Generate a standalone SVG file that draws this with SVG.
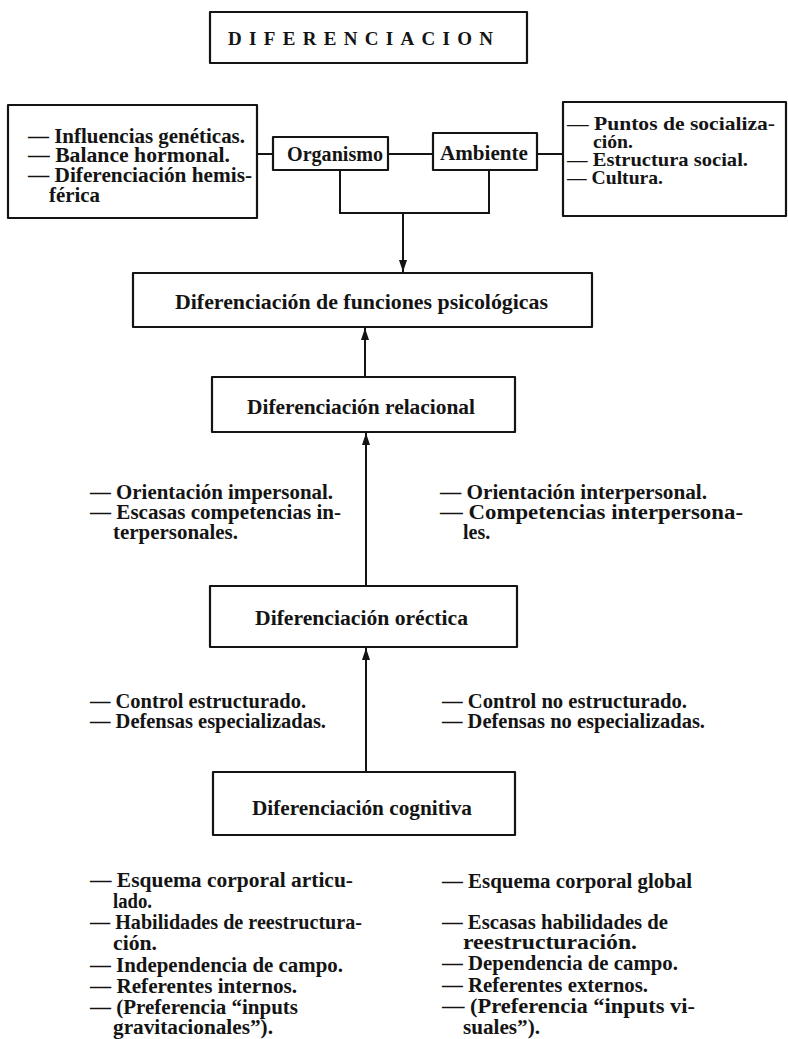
<svg xmlns="http://www.w3.org/2000/svg" width="788" height="1039" viewBox="0 0 788 1039">
  <style>
    .box { fill: none; stroke: #141414; stroke-width: 2.2; stroke-linejoin: round; }
    .wire { fill: none; stroke: #141414; stroke-width: 2; }
    .t { font-family: "Liberation Serif", "Times New Roman", serif; font-weight: bold; font-size: 20px; fill: #141414; }
    .s { font-size: 19px; }
    .title { font-family: "Liberation Serif", "Times New Roman", serif; font-weight: bold; font-size: 19px; fill: #141414; }
  </style>
  <defs>
    <marker id="tip" markerUnits="userSpaceOnUse" markerWidth="12" markerHeight="8" refX="12" refY="4" orient="auto" viewBox="0 0 12 8">
      <path d="M0,0 L12,4 L0,8 Z" fill="#141414"/>
    </marker>
  </defs>
  <rect width="788" height="1039" fill="#ffffff"/>

  <!-- connectors -->
  <g id="connectors">
    <line class="wire" x1="257" y1="154" x2="273" y2="154"/>
    <line class="wire" x1="388" y1="154" x2="433" y2="154"/>
    <line class="wire" x1="537" y1="154" x2="563" y2="154"/>
    <path class="wire" d="M340,170 V213 H489 V170"/>
    <line class="wire" x1="403" y1="214" x2="403" y2="272" marker-end="url(#tip)"/>
    <line class="wire" x1="365" y1="377" x2="365" y2="328" marker-end="url(#tip)"/>
    <line class="wire" x1="366" y1="586" x2="366" y2="433" marker-end="url(#tip)"/>
    <line class="wire" x1="366" y1="772" x2="366" y2="648" marker-end="url(#tip)"/>
  </g>

  <!-- title -->
  <g id="title">
    <rect class="box" x="210" y="12" width="317" height="51"/>
    <text class="title" x="228" y="45" textLength="265" lengthAdjust="spacing">DIFERENCIACION</text>
  </g>

  <!-- biological factors -->
  <g id="factores-biologicos">
    <rect class="box" x="8" y="105" width="249" height="113"/>
    <text class="t" x="28" y="143" textLength="217" lengthAdjust="spacingAndGlyphs">— Influencias genéticas.</text>
    <text class="t" x="28" y="162" textLength="202" lengthAdjust="spacingAndGlyphs">— Balance hormonal.</text>
    <text class="t" x="28" y="182" textLength="224" lengthAdjust="spacingAndGlyphs">— Diferenciación hemis-</text>
    <text class="t" x="49" y="202" textLength="51" lengthAdjust="spacingAndGlyphs">férica</text>
  </g>

  <g id="organismo">
    <rect class="box" x="273" y="137" width="115" height="33"/>
    <text class="t" x="287" y="161" textLength="96" lengthAdjust="spacingAndGlyphs">Organismo</text>
  </g>

  <g id="ambiente">
    <rect class="box" x="433" y="133" width="104" height="37"/>
    <text class="t" x="440" y="160" textLength="88" lengthAdjust="spacingAndGlyphs">Ambiente</text>
  </g>

  <!-- social factors -->
  <g id="factores-sociales">
    <rect class="box" x="563" y="102" width="223" height="114"/>
    <text class="t s" x="567" y="130" textLength="208" lengthAdjust="spacingAndGlyphs">— Puntos de socializa-</text>
    <text class="t s" x="593" y="148" textLength="40" lengthAdjust="spacingAndGlyphs">ción.</text>
    <text class="t s" x="567" y="166" textLength="181" lengthAdjust="spacingAndGlyphs">— Estructura social.</text>
    <text class="t s" x="567" y="184" textLength="96" lengthAdjust="spacingAndGlyphs">— Cultura.</text>
  </g>

  <g id="funciones">
    <rect class="box" x="133" y="273" width="459" height="54"/>
    <text class="t" x="175" y="309" textLength="373" lengthAdjust="spacingAndGlyphs">Diferenciación de funciones psicológicas</text>
  </g>

  <g id="relacional">
    <rect class="box" x="212" y="377" width="303" height="55"/>
    <text class="t" x="247" y="414" textLength="228" lengthAdjust="spacingAndGlyphs">Diferenciación relacional</text>
  </g>

  <g id="relacional-notas">
    <text class="t" x="90" y="499" textLength="243" lengthAdjust="spacingAndGlyphs">— Orientación impersonal.</text>
    <text class="t" x="90" y="519" textLength="251" lengthAdjust="spacingAndGlyphs">— Escasas competencias in-</text>
    <text class="t" x="113" y="539" textLength="125" lengthAdjust="spacingAndGlyphs">terpersonales.</text>
    <text class="t" x="440" y="499" textLength="267" lengthAdjust="spacingAndGlyphs">— Orientación interpersonal.</text>
    <text class="t" x="440" y="519" textLength="303" lengthAdjust="spacingAndGlyphs">— Competencias interpersona-</text>
    <text class="t" x="463" y="539">les.</text>
  </g>

  <g id="orectica">
    <rect class="box" x="210" y="586" width="307" height="61"/>
    <text class="t" x="255" y="625" textLength="213" lengthAdjust="spacingAndGlyphs">Diferenciación oréctica</text>
  </g>

  <g id="orectica-notas">
    <text class="t" x="90" y="708" textLength="216" lengthAdjust="spacingAndGlyphs">— Control estructurado.</text>
    <text class="t" x="90" y="728" textLength="236" lengthAdjust="spacingAndGlyphs">— Defensas especializadas.</text>
    <text class="t" x="442" y="708" textLength="245" lengthAdjust="spacingAndGlyphs">— Control no estructurado.</text>
    <text class="t" x="442" y="728" textLength="263" lengthAdjust="spacingAndGlyphs">— Defensas no especializadas.</text>
  </g>

  <g id="cognitiva">
    <rect class="box" x="213" y="772" width="302" height="63"/>
    <text class="t" x="252" y="815" textLength="220" lengthAdjust="spacingAndGlyphs">Diferenciación cognitiva</text>
  </g>

  <g id="cognitiva-notas">
    <text class="t" x="90" y="887" textLength="263" lengthAdjust="spacingAndGlyphs">— Esquema corporal articu-</text>
    <text class="t" x="113" y="908" textLength="39" lengthAdjust="spacingAndGlyphs">lado.</text>
    <text class="t" x="90" y="929" textLength="272" lengthAdjust="spacingAndGlyphs">— Habilidades de reestructura-</text>
    <text class="t" x="113" y="950" textLength="44" lengthAdjust="spacingAndGlyphs">ción.</text>
    <text class="t" x="90" y="972" textLength="253" lengthAdjust="spacingAndGlyphs">— Independencia de campo.</text>
    <text class="t" x="90" y="993" textLength="207" lengthAdjust="spacingAndGlyphs">— Referentes internos.</text>
    <text class="t" x="90" y="1014" textLength="208" lengthAdjust="spacingAndGlyphs">— (Preferencia “inputs</text>
    <text class="t" x="113" y="1034" textLength="160" lengthAdjust="spacingAndGlyphs">gravitacionales”).</text>

    <text class="t" x="442" y="888" textLength="250" lengthAdjust="spacingAndGlyphs">— Esquema corporal global</text>
    <text class="t" x="442" y="929" textLength="226" lengthAdjust="spacingAndGlyphs">— Escasas habilidades de</text>
    <text class="t" x="463" y="949" textLength="174" lengthAdjust="spacingAndGlyphs">reestructuración.</text>
    <text class="t" x="442" y="970" textLength="236" lengthAdjust="spacingAndGlyphs">— Dependencia de campo.</text>
    <text class="t" x="442" y="992" textLength="206" lengthAdjust="spacingAndGlyphs">— Referentes externos.</text>
    <text class="t" x="442" y="1013" textLength="253" lengthAdjust="spacingAndGlyphs">— (Preferencia “inputs vi-</text>
    <text class="t" x="463" y="1034" textLength="77" lengthAdjust="spacingAndGlyphs">suales”).</text>
  </g>
</svg>
